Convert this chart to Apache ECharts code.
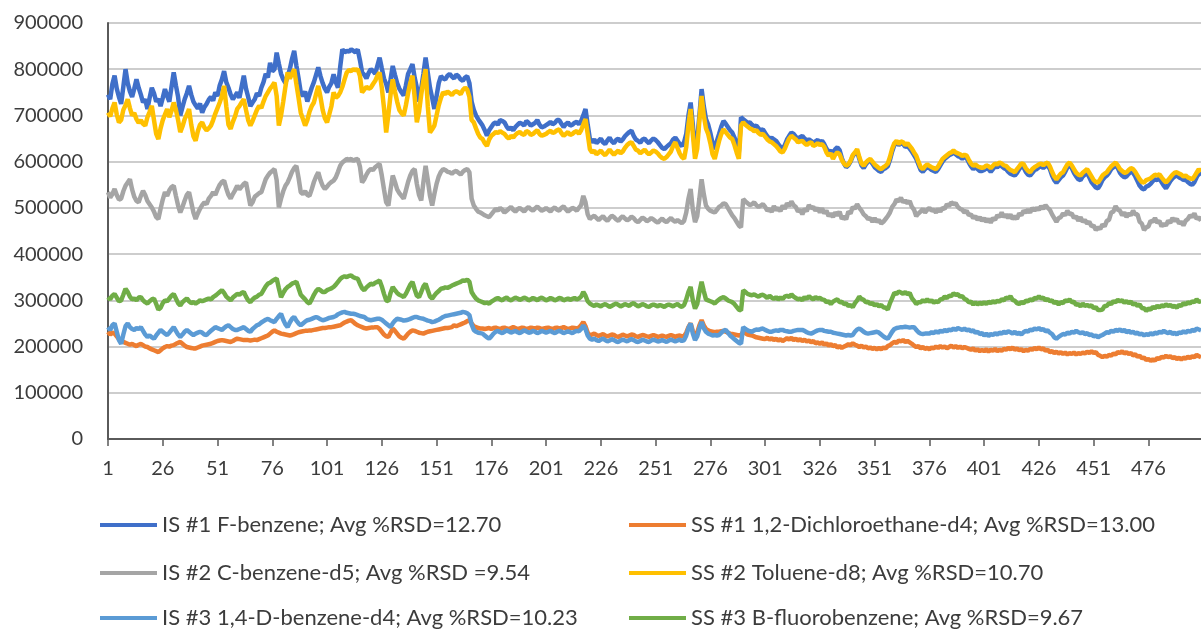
<!DOCTYPE html>
<html>
<head>
<meta charset="utf-8">
<style>
  html, body { margin: 0; padding: 0; background: #ffffff; }
  #chart { width: 1201px; height: 631px; }
</style>
<script src="https://cdn.jsdelivr.net/npm/echarts/dist/echarts.min.js"></script>
</head>
<body>
<div id="chart"></div>
<script>
// Injection sequence numbers along the x axis
const injections = Array.from({ length: 500 }, (_, i) => String(i + 1));

// Legend names, in series order
const seriesNames = [
  'IS #1 F-benzene; Avg %RSD=12.70',
  'SS #1 1,2-Dichloroethane-d4; Avg %RSD=13.00',
  'IS #2 C-benzene-d5; Avg %RSD =9.54',
  'SS #2 Toluene-d8; Avg %RSD=10.70',
  'IS #3 1,4-D-benzene-d4; Avg %RSD=10.23',
  'SS #3 B-fluorobenzene; Avg %RSD=9.67'
];
const seriesColors = ['#3f6fc9', '#ed7d31', '#a5a5a5', '#ffc000', '#5b9bd5', '#70ad47'];

// Peak area responses per injection, in thousands of counts
const isFbenzene = [
  745,735,768,786,758,740,725,762,800,770,752,740,758,778,760,745,728,735,714,738,760,748,730,736,720,
  738,757,742,730,762,793,765,740,700,718,735,748,764,745,730,722,715,726,706,718,725,734,740,732,750,
  742,765,778,796,772,760,745,735,742,750,738,762,786,758,740,720,728,735,748,742,760,772,790,782,814,
  795,800,836,812,790,778,770,785,800,822,840,808,780,750,742,752,730,745,760,772,788,804,785,770,758,
  750,762,770,789,772,760,805,843,836,840,838,843,840,836,843,820,793,788,780,792,800,796,790,808,825,
  802,780,768,750,778,807,788,770,758,750,743,765,790,800,811,782,760,730,758,790,825,792,760,738,714,
  742,770,785,780,778,786,790,784,780,788,785,778,775,782,785,770,730,712,700,692,685,678,668,656,668,
  675,682,685,680,690,688,685,676,670,674,668,675,680,684,682,678,688,684,678,681,684,690,680,674,676,
  679,682,686,681,684,690,690,682,675,681,685,678,680,684,686,681,688,700,714,680,649,642,648,640,645,
  650,642,638,646,652,644,640,647,650,643,648,655,660,664,667,656,648,645,641,648,650,644,640,646,650,
  647,642,636,630,627,632,636,640,648,652,645,638,634,642,660,700,728,680,620,648,700,757,720,692,680,
  662,640,627,645,660,676,688,682,675,668,663,652,640,620,696,692,688,684,685,680,676,678,672,668,670,
  662,655,649,652,648,645,638,632,627,636,648,656,663,660,654,650,653,656,650,646,648,645,640,644,647,
  642,645,638,628,620,624,618,627,631,625,608,596,588,592,600,612,618,622,606,592,586,594,600,602,596,
  588,584,580,578,584,586,590,604,622,636,642,636,640,638,632,634,628,622,614,606,594,582,578,584,588,
  586,582,580,578,584,592,600,606,610,614,616,620,616,612,610,606,610,608,598,590,584,588,584,580,580,
  582,586,584,578,584,590,588,592,590,586,584,578,574,572,570,576,584,590,588,578,572,570,576,582,584,
  588,590,586,590,592,584,570,560,554,560,566,570,578,588,592,586,576,568,562,560,568,572,576,566,556,
  550,544,542,550,560,566,570,576,584,588,592,586,576,570,566,568,574,578,576,568,558,548,542,540,546,
  548,552,558,562,560,564,556,548,542,550,558,564,568,570,566,564,560,562,556,552,550,556,566,576,570
];

const ssDichloroethane = [
  232,226,230,228,222,216,214,210,208,206,204,206,203,201,204,206,203,200,199,196,194,192,190,188,192,
  196,199,201,200,202,203,206,208,210,206,202,199,198,197,196,196,198,200,202,203,204,205,206,208,210,
  212,213,214,213,212,211,210,212,215,217,216,215,214,214,214,213,214,215,214,216,218,220,222,224,228,
  232,235,232,230,228,227,226,225,224,225,227,229,231,232,233,234,234,235,235,236,237,238,239,240,240,
  241,242,242,243,244,245,246,249,252,254,256,257,253,249,246,244,242,240,239,240,241,241,242,242,238,
  232,226,222,221,230,239,234,228,222,219,217,222,228,232,235,234,232,230,229,228,230,232,233,234,235,
  236,237,238,239,240,240,241,242,246,244,246,248,250,252,255,257,250,244,242,240,239,239,238,239,240,
  238,240,241,239,238,240,241,239,238,240,242,240,238,239,241,240,238,239,241,240,239,241,240,238,239,
  240,241,239,238,240,241,239,240,242,240,238,239,241,240,239,241,246,253,244,230,224,226,228,225,223,
  225,227,224,222,224,226,225,222,221,223,226,224,222,224,226,225,222,221,223,225,224,222,221,223,225,
  223,221,222,224,222,221,223,225,223,221,223,224,222,223,230,242,250,234,224,230,246,257,246,238,235,
  233,232,231,232,232,233,234,232,230,228,227,226,225,224,225,232,229,226,225,224,222,220,219,218,217,
  216,219,215,218,214,217,213,216,212,215,218,215,219,214,217,213,216,212,215,211,213,209,212,207,209,
  206,209,204,207,202,205,201,203,198,201,197,200,202,205,203,207,204,202,199,202,198,200,196,198,195,
  197,194,197,194,198,196,201,203,207,210,208,213,211,214,210,212,209,206,202,199,201,196,199,195,197,
  194,198,196,200,197,201,198,200,196,199,202,198,201,197,200,196,199,197,195,193,196,191,194,190,193,
  190,194,189,193,191,195,190,193,191,195,193,197,194,198,193,196,192,194,190,193,191,195,193,197,194,
  198,194,196,191,193,188,190,186,189,185,188,184,187,183,186,184,187,183,186,184,187,185,189,186,190,
  186,188,182,180,177,180,178,182,180,185,183,188,186,190,185,188,184,186,181,183,178,180,175,176,171,
  173,169,172,170,175,173,178,176,180,177,179,175,177,173,176,172,176,174,178,175,179,177,182,179,177
];

const isCbenzene = [
  534,522,530,541,528,518,520,536,548,555,562,540,524,515,512,526,537,528,515,508,501,492,480,476,498,
  518,534,526,538,545,548,526,505,490,502,516,528,534,512,490,476,488,498,506,512,508,520,526,534,528,
  540,550,556,559,542,528,520,530,538,548,540,546,552,555,530,505,512,524,528,532,534,548,562,570,576,
  580,584,560,501,520,536,548,555,566,578,586,591,565,534,530,536,528,526,540,556,568,577,560,548,541,
  546,552,556,559,566,578,591,598,602,606,604,606,602,605,606,590,555,562,572,580,584,582,588,592,595,
  570,540,512,505,540,570,556,540,532,526,520,538,556,570,580,584,552,528,516,556,591,560,526,505,530,
  552,568,578,584,582,578,577,574,578,580,576,572,578,582,584,577,520,505,498,492,490,487,484,482,480,
  486,492,498,494,500,496,490,494,498,502,496,492,497,500,496,492,498,502,497,494,499,503,498,494,496,
  500,496,492,498,501,496,494,500,503,497,492,496,500,498,494,500,506,526,512,486,476,480,483,478,474,
  478,482,476,472,478,483,480,475,472,478,482,477,473,476,481,478,472,469,474,479,476,471,474,478,475,
  471,468,473,477,472,469,474,478,473,470,474,470,467,472,490,520,541,496,469,482,520,562,530,505,498,
  494,492,490,496,502,505,510,508,500,492,484,478,470,462,458,519,514,510,506,508,512,506,502,505,508,
  502,494,498,491,504,495,500,493,505,498,510,504,514,506,502,492,496,486,498,493,506,499,502,494,500,
  490,499,488,494,482,488,480,490,484,492,476,482,475,492,488,502,498,508,500,494,486,482,476,478,470,
  478,470,474,466,470,476,482,490,502,508,518,514,522,512,516,510,515,502,496,482,488,492,498,490,496,
  500,494,496,490,498,492,500,498,508,504,512,508,510,502,498,496,490,494,484,486,478,482,474,480,472,
  478,470,476,468,478,474,484,480,490,480,486,478,486,476,482,476,488,484,494,490,496,490,500,494,500,
  496,504,498,506,500,496,486,478,470,478,480,488,484,494,486,488,478,482,472,480,470,474,466,470,460,
  462,452,458,454,464,460,472,474,490,492,504,496,494,484,490,480,488,484,494,486,486,470,466,452,458,
  460,472,470,478,468,472,460,466,462,472,468,478,472,476,466,470,462,472,476,484,480,488,476,480,472
];

const ssToluene = [
  706,698,715,728,702,685,690,712,722,735,716,700,705,692,684,690,682,678,696,708,721,690,660,649,672,
  690,702,714,696,710,728,712,690,664,676,692,702,714,680,655,645,666,680,685,674,668,672,678,690,704,
  716,728,742,764,720,680,671,686,698,714,720,728,735,712,690,678,688,700,712,721,716,730,742,750,758,
  764,771,742,678,700,730,762,793,780,790,800,768,738,706,692,678,690,708,720,728,746,764,740,712,694,
  685,702,720,750,738,742,750,762,778,793,798,796,800,798,800,786,750,756,762,758,760,768,775,786,793,
  760,716,663,702,745,778,752,730,712,705,700,722,748,770,786,740,685,708,745,776,800,720,663,670,678,
  700,722,738,750,746,752,748,744,750,752,750,746,755,760,756,740,690,685,672,660,652,649,640,634,648,
  656,660,664,662,666,663,660,654,650,656,652,658,662,664,660,658,666,664,658,660,664,668,660,656,658,
  660,664,667,662,664,668,670,662,656,660,664,658,660,664,666,660,668,680,692,660,627,620,624,616,620,
  624,618,614,620,626,620,615,620,624,618,622,630,636,640,642,634,626,624,618,622,626,620,616,620,624,
  622,618,612,608,606,610,616,622,634,642,630,618,610,606,632,680,714,660,606,628,690,742,700,672,660,
  640,616,606,626,645,660,670,664,658,652,649,636,620,606,678,685,680,676,672,670,666,668,662,658,660,
  654,648,644,642,638,634,628,622,620,628,640,650,656,652,648,642,644,645,640,636,640,642,634,636,640,
  636,638,632,620,613,618,606,615,620,616,604,596,591,594,602,614,620,627,610,596,591,598,603,606,600,
  594,590,586,584,588,591,596,610,628,640,645,638,644,642,636,640,634,628,620,613,600,588,584,590,594,
  591,588,586,584,590,598,606,610,614,618,620,624,620,618,616,612,615,613,604,596,591,594,590,588,587,
  588,592,590,586,591,596,594,598,596,592,591,586,582,580,577,584,590,596,595,586,580,577,584,588,591,
  594,596,592,596,598,590,578,568,562,568,574,577,586,594,598,592,584,576,572,570,576,580,584,576,568,
  560,556,555,562,570,574,577,584,590,594,598,592,584,580,576,577,582,586,584,578,570,562,556,555,560,
  562,564,568,572,570,573,566,560,555,560,566,572,576,577,574,572,568,570,566,564,562,568,576,584,578
];

const isDbenzene = [
  242,236,246,250,232,214,206,226,244,250,242,238,236,240,238,242,234,226,221,224,220,217,224,230,236,
  232,228,225,230,236,242,234,226,221,226,232,236,232,228,225,228,230,232,230,226,225,230,234,238,242,
  240,238,236,240,244,246,242,238,236,236,238,240,242,238,234,232,238,242,246,248,252,255,258,260,257,
  255,253,260,266,271,258,248,242,252,260,264,256,250,246,250,254,257,258,260,262,264,262,259,257,258,
  260,262,263,264,266,270,272,274,275,273,272,271,271,270,268,266,265,264,260,258,257,258,259,260,260,
  258,254,250,246,242,250,256,260,259,258,256,257,258,260,262,264,264,262,261,260,258,256,255,253,254,
  256,258,261,264,266,267,268,269,270,271,272,273,275,274,272,268,248,236,232,230,229,228,224,220,217,
  222,228,232,234,231,229,232,235,233,230,232,234,231,229,232,235,233,230,231,234,232,229,231,234,232,
  230,232,234,231,229,232,234,232,229,231,233,231,229,232,234,233,238,246,238,224,217,215,217,214,212,
  215,217,214,211,213,216,214,211,210,213,215,213,211,214,216,214,211,210,212,215,213,211,210,213,215,
  213,211,212,214,212,210,213,215,213,211,213,215,212,214,224,240,250,228,214,222,240,253,240,232,228,
  226,224,225,224,225,230,234,236,230,224,220,216,212,208,206,242,238,235,233,232,235,237,236,238,239,
  236,234,232,232,234,235,234,236,236,234,233,232,232,234,235,236,236,236,234,231,229,228,230,233,235,
  236,236,234,233,232,232,230,229,228,227,226,225,224,225,224,225,232,237,239,236,232,229,228,229,230,
  231,232,230,226,222,219,217,224,232,238,240,241,242,242,243,242,241,242,242,236,231,228,227,228,228,
  228,231,229,233,230,234,232,236,233,237,235,239,236,240,238,236,239,235,237,233,235,230,232,227,229,
  224,228,223,227,225,229,226,230,228,232,229,233,231,228,232,227,230,226,231,234,232,237,235,239,237,
  240,236,238,233,235,230,227,220,217,221,224,227,226,230,228,232,230,234,231,229,231,227,229,225,226,
  222,224,220,223,225,228,231,230,234,232,236,234,237,233,236,231,234,230,232,228,230,226,228,224,227,
  225,229,226,230,228,232,230,234,231,229,232,227,230,226,231,229,233,230,234,232,236,234,239,237,235
];

const ssBfluorobenzene = [
  307,302,310,314,306,298,300,312,325,318,308,302,304,300,306,307,300,296,293,298,302,304,292,280,284,
  294,300,298,304,310,314,304,294,289,296,300,304,298,294,296,293,296,300,298,300,302,304,302,307,310,
  314,318,322,316,308,304,300,306,310,314,312,316,318,308,300,296,302,306,308,312,314,322,330,336,338,
  342,345,347,326,307,316,324,329,332,336,338,340,326,312,307,302,296,293,302,312,320,325,322,318,318,
  322,324,326,329,334,340,346,350,352,350,353,354,350,348,347,336,326,322,328,332,336,334,338,340,343,
  330,314,300,298,316,329,322,316,312,310,307,314,324,334,340,324,310,307,318,330,336,322,308,304,310,
  316,320,325,326,328,327,329,332,334,336,338,340,343,342,345,340,318,310,304,300,298,296,294,295,293,
  297,300,303,305,302,300,304,306,302,300,303,306,304,301,303,306,304,300,302,305,303,300,304,306,303,
  300,302,305,303,300,302,305,304,300,302,304,301,303,305,302,304,308,318,310,298,293,290,288,291,289,
  287,290,292,289,286,288,291,293,290,287,289,292,290,288,292,294,290,287,289,292,290,287,286,289,291,
  289,287,290,288,286,289,291,289,287,290,292,288,286,290,302,318,329,300,282,292,318,340,320,302,300,
  298,296,293,298,302,305,307,304,300,298,296,292,286,280,278,322,318,314,312,311,313,310,308,311,312,
  309,305,310,306,303,307,302,306,303,308,310,307,313,308,305,302,304,300,307,303,309,305,302,307,304,
  305,302,301,296,298,292,297,300,302,296,297,292,293,288,290,285,294,300,308,303,301,296,297,292,294,
  289,292,287,290,285,284,280,294,305,316,314,319,317,314,318,313,316,305,299,292,296,296,300,297,302,
  297,300,295,298,296,302,303,308,305,310,309,315,312,313,308,309,303,301,296,297,291,296,291,295,292,
  296,292,297,294,298,295,299,297,302,300,306,304,309,301,299,294,292,296,294,299,298,302,300,305,304,
  309,304,306,300,303,298,300,294,297,291,296,294,300,298,302,296,297,290,292,287,293,288,290,287,289,
  283,285,279,279,280,288,288,294,292,298,296,301,298,300,295,298,294,297,291,293,288,291,283,283,277,
  282,280,286,283,288,285,289,287,291,288,290,286,288,284,290,288,294,291,296,293,298,296,302,297,298
];

// Y axis range and step
const yMax = 900000;
const yStep = 100000;

const seriesValues = [isFbenzene, ssDichloroethane, isCbenzene, ssToluene, isDbenzene, ssBfluorobenzene];
const toCounts = arr => arr.map(v => v * 1000);

const fontFamily = 'Lato, "Liberation Sans", sans-serif';
const textColor = '#3c3c3c';
const axisColor = '#5a5a5a';

// Two legend columns of three rows each; IS entries on the left, SS entries on the right
const legendColumns = [100, 629];
const legendRows = [512, 560, 605];
const legends = seriesNames.map((name, i) => ({
  data: [name],
  left: legendColumns[i % 2],
  top: legendRows[Math.floor(i / 2)],
  padding: 0,
  icon: 'rect',
  itemWidth: 57,
  itemHeight: 4,
  textStyle: { fontFamily, fontSize: 22, color: textColor, lineHeight: 26 }
}));

const chart = echarts.init(document.getElementById('chart'), null, { renderer: 'canvas' });
chart.setOption({
  animation: false,
  backgroundColor: '#ffffff',
  grid: { left: 108, right: -2, top: 23, bottom: 192, containLabel: false },
  legend: legends,
  xAxis: {
    type: 'category',
    data: injections,
    boundaryGap: false,
    axisLine: { lineStyle: { color: axisColor, width: 2 } },
    axisTick: { show: true, interval: 24, length: 7, lineStyle: { color: axisColor, width: 1.5 } },
    axisLabel: { interval: 24, fontFamily, fontSize: 20, color: textColor, margin: 20 },
    splitLine: { show: false }
  },
  yAxis: {
    type: 'value',
    min: 0,
    max: yMax,
    interval: yStep,
    axisLine: { show: true, lineStyle: { color: axisColor, width: 2 } },
    axisTick: { show: false },
    axisLabel: {
      fontFamily, fontSize: 20, color: textColor, margin: 25,
      formatter: v => String(v)
    },
    splitLine: { lineStyle: { color: '#bdbdbd', width: 1.5 } }
  },
  series: seriesNames.map((name, i) => ({
    name,
    type: 'line',
    data: toCounts(seriesValues[i]),
    symbol: 'none',
    showSymbol: false,
    color: seriesColors[i],
    lineStyle: { color: seriesColors[i], width: 4.5 }
  }))
});
</script>
</body>
</html>
